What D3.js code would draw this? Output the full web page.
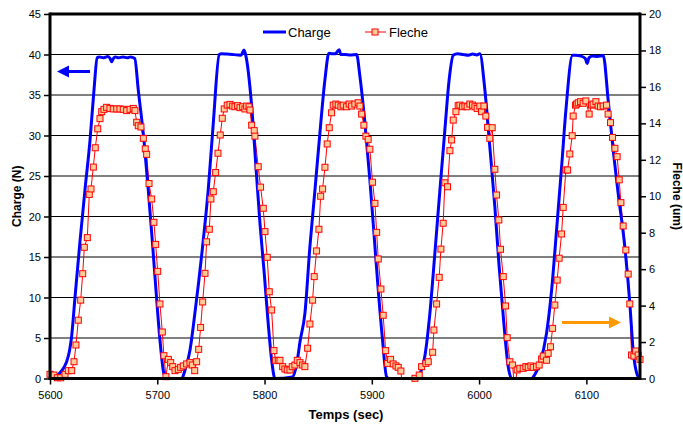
<!DOCTYPE html>
<html>
<head>
<meta charset="utf-8">
<script src="https://cdn.jsdelivr.net/npm/d3@7/dist/d3.min.js"></script>
<style>
  html, body { margin: 0; padding: 0; background: #fff; }
  svg { display: block; font-family: "Liberation Sans", Arial, sans-serif; }
</style>
</head>
<body>
<svg id="chart" width="683" height="425"></svg>
<script>
// ---------------- DATA ----------------
const chargeTime = [5600,5604,5610,5615,5618,5620,5623.3,5628,5632.6,5637.3,5641,5644,5646,5650,5654,5656,5657.5,5659,5661,5664,5668,5672,5675,5679,5682.3,5687.6,5691.6,5695.3,5698.8,5702.5,5705.6,5708,
  5722.7,5725.8,5730.5,5735.1,5742.9,5747.5,5752.2,5757.8,5760,5765,5770,5775,5778,5780.8,5782.5,5788,5792,5795.7,5799.7,5803.4,5806.6,5809.7,
  5826,5829,5831.4,5833,5837.6,5842.3,5847,5851.6,5856.3,5860,5863,5866,5869.6,5871,5875,5880,5885.8,5888.9,5893.6,5898.2,5902,5906,5910,5913.8,5916,
  5941.8,5945,5949.5,5954.1,5958.8,5963.5,5968.1,5972.1,5975.9,5980,5985,5990,5994,5998,6000.7,6005.4,6010,6014.7,6018.7,6023.1,6027.1,6030.3,
  6048.9,6052,6056.7,6062.9,6067.6,6072.2,6076.9,6080.9,6087.1,6090,6095,6099,6100.7,6102.5,6106,6110,6113,6115.7,6120.3,6125,6129.6,6135.8,6140.5,6143.6,6148.3,6150];
const chargeValues = [0,0.1,0.8,1.9,3.3,5,10,17,23.3,29.4,35.6,39.6,39.7,39.6,39.75,39.5,39.1,39.5,39.7,39.6,39.7,39.6,39.7,39.5,35.6,29.4,23.3,17.1,10.9,4.75,1,0,
  0,1,3.5,8.1,17.1,23.3,31.5,40.0,40.1,40.05,40.0,39.95,39.9,40.55,39.9,33.6,26.1,19.2,13,6.8,2.3,0,
  0.2,1.2,3,4.5,8,16.3,23.3,30.3,36.9,40.15,40.1,40.1,40.6,40.0,40.0,39.95,40.0,37.3,31.5,24.5,17.9,10.9,4.75,0.2,0,
  0,0.6,2.8,8,15.5,23.3,30.7,36.9,39.9,40.1,40.0,39.9,40.05,39.95,40.1,35.6,28.6,21.2,13.8,6.8,1.5,0,
  0,0.5,1.9,5.6,10.9,18.3,26.1,33.1,39.9,39.9,39.8,39.5,38.9,39.6,39.8,39.75,39.8,39.9,34.4,28.2,22.9,16.3,9.3,3.5,0.2,0];

const flecheTime = [5600,5603.7,5606.8,5610,5614,5617.1,5620.2,5622.4,5624.2,5626.4,5628.6,5630.5,5632,5634.8,5636.6,5638.2,5640.4,5642.2,5644.5,5646.6,5648.2,5650.3,5652.8,5655.9,5659,5662.2,5665.2,5668.3,5671.5,5674.6,5677.6,5679.2,5680.8,5682.3,5684.8,5687,5688.8,5690.1,5692.3,5694.8,5696.9,5698.5,5700.4,5702.5,5704.7,5706.2,5708.1,
  5710.3,5712.5,5714.4,5716.5,5719.6,5721.8,5724.2,5727.4,5730.5,5732.6,5734.9,5736.7,5738.6,5740.4,5742.3,5744.5,5746,5748.5,5750,5752.2,5754.4,5756.6,5758.7,5760.6,5762.4,5765.2,5767.8,5770.3,5772.4,5774.9,5777.1,5779.6,5781.7,5783.3,5785.5,5786.4,5788,5790.4,5791,5794.1,5796.3,5798.8,5800.4,5802.5,5804.4,5806.6,5808.8,
  5810.3,5812.8,5814.4,5816.9,5819,5821.2,5823.7,5825.8,5828.3,5830.5,5833,5835.5,5837.6,5840.2,5842.3,5844.8,5846.3,5848.5,5850.7,5852.3,5854.1,5856.3,5858.4,5860.3,5862.5,5864,5866.5,5868.7,5871.2,5873.3,5876.5,5878.9,5881.2,5884.2,5887.3,5888.9,5890.5,5892.6,5894.5,5896.6,5898.2,5900.7,5902.9,5904.5,5906,5908.5,5910.6,5912.9,
  5914.7,5917.5,5919.9,5922.5,5924.6,5927.1,5929.4,5940.2,5944.2,5946.4,5950.4,5952.6,5956.7,5957.9,5960.4,5962.8,5964.4,5966.5,5968.1,5970.6,5972.8,5974.4,5975.9,5978.4,5980.5,5982.1,5984.6,5986.8,5988.9,5991.4,5993.9,5996.1,5998.2,6000.7,6002.3,6004.5,6006.3,6007.9,6010,6012.2,6014.7,6016.3,6018.4,6020,6022.5,6024.7,6026.2,6028.7,6031.2,
  6033.1,6035.5,6038,6041.1,6043.6,6045.8,6048.3,6050.4,6053.6,6056,6058.3,6059.8,6062.9,6064.4,6066.6,6068.5,6070.6,6072.8,6074.6,6076.9,6078.4,6080.9,6082.5,6084.6,6086.8,6087.7,6089.9,6090.9,6092.4,6094.6,6097,6099.5,6102.6,6104.8,6106.3,6108.9,6111,6113.2,6115.7,6118.8,6120.3,6122.5,6124.4,6126.6,6128.7,6130.6,6132.2,6134.3,6136.8,6139,6140.5,6142.1,6144.3,6146.1,6148.3,6150,6153];
const flecheValues = [0.23,0.19,0.04,0.04,0.23,0.43,0.43,0.92,1.84,3.2,4.3,5.75,7.2,7.73,10.1,10.4,11.6,12.66,13.7,14.26,14.64,14.77,14.88,14.82,14.79,14.79,14.79,14.77,14.7,14.77,14.82,14.7,14.06,13.87,13.8,13.18,12.6,12.3,10.7,9.85,8.57,7.36,5.88,4.09,2.55,1.25,0.1,
  1.05,0.87,0.65,0.43,0.5,0.61,0.69,0.8,0.87,0.74,0.43,0.92,1.6,2.8,4.2,5.77,7.5,8.19,9.85,10.25,11.3,12.36,13.36,14.28,14.79,15.0,15.04,14.95,14.91,14.97,14.86,14.91,14.79,14.95,14.91,14.73,13.9,13.6,13.3,11.62,10.5,9.34,8.06,6.65,4.76,3.76,1.53,
  1.0,0.98,1.0,0.65,0.52,0.47,0.47,0.65,0.74,1.0,0.87,0.74,0.65,1.66,2.99,4.3,5.59,7.0,8.19,10.0,10.4,11.59,12.87,13.76,14.58,15.0,15.06,15.0,14.91,15.0,14.91,15.06,14.95,15.06,15.13,14.95,14.51,13.9,13.3,13.12,12.58,10.77,9.61,8.02,6.56,4.91,3.47,1.53,
  0.83,1.05,0.8,0.69,0.61,0.41,-1.0,0.01,0.19,0.65,0.83,0.92,1.44,2.66,4.09,5.55,7.1,8.52,10.74,10.52,12.5,13.09,14.18,14.64,14.97,15.0,14.91,14.95,14.91,15.06,15.0,14.91,14.82,14.95,14.64,14.95,14.4,13.78,13.18,13.76,11.48,10.07,8.7,7.09,5.59,3.98,2.24,0.92,0.74,
  -0.6,0.47,0.56,0.56,0.65,0.61,0.69,0.61,0.65,0.74,1.07,1.23,1.0,1.38,1.74,2.75,4.03,5.4,6.6,7.93,9.39,11.44,11.44,12.32,13.32,14.4,15.0,15.06,15.13,15.19,15.1,15.23,14.51,15.0,15.06,15.19,14.95,14.91,14.95,15.0,14.51,14.04,13.23,12.63,12.17,10.9,9.65,8.37,7.05,5.73,4.09,1.29,1.23,1.51,1.29,1.05,0.5];

const xTicks = [5600,5700,5800,5900,6000,6100];
const leftTicks = [0,5,10,15,20,25,30,35,40,45];
const rightTicks = [0,2,4,6,8,10,12,14,16,18,20];
const seriesNames = ["Charge","Fleche"];
const axisTitles = {left: "Charge (N)", right: "Fleche (um)", bottom: "Temps (sec)"};

// ---------------- LAYOUT ----------------
const svg = d3.select("#chart");
const L = 50, R = 640, T = 14, B = 378.5;
const x = d3.scaleLinear().domain([5600, 6150]).range([L, R]);
const yL = d3.scaleLinear().domain([0, 45]).range([B, T]);
const yR = d3.scaleLinear().domain([0, 20]).range([B, T]);

svg.append("rect").attr("width",683).attr("height",425).attr("fill","#fff");

// gridlines
svg.append("g").selectAll("line").data(leftTicks.filter(d => d > 0 && d < 45)).join("line")
  .attr("x1", L).attr("x2", R).attr("y1", d => yL(d)).attr("y2", d => yL(d))
  .attr("stroke", "#000").attr("stroke-width", 1);

// clip
svg.append("defs").append("clipPath").attr("id","clip")
  .append("rect").attr("x", L).attr("y", T).attr("width", R - L).attr("height", B - T);

const plot = svg.append("g").attr("clip-path","url(#clip)");

// Fleche series (red line with square markers)
const fData = flecheTime.map((t,i) => ({t, v: flecheValues[i]}));
plot.append("path").datum(fData)
  .attr("d", d3.line().x(d => x(d.t)).y(d => yR(d.v)))
  .attr("fill","none").attr("stroke","#FF0000").attr("stroke-width",1);

// Charge series (blue thick line)
const cData = chargeTime.map((t,i) => ({t, v: chargeValues[i]}));
plot.append("path").datum(cData)
  .attr("d", d3.line().curve(d3.curveMonotoneX).x(d => x(d.t)).y(d => yL(d.v)))
  .attr("fill","none").attr("stroke","#0000FF").attr("stroke-width",3).attr("stroke-linejoin","round");

// markers
svg.append("g").selectAll("rect").data(fData.filter(d => d.t <= 6150 && d.v >= 0)).join("rect")
  .attr("x", d => x(d.t) - 3).attr("y", d => yR(d.v) - 3)
  .attr("width", 6).attr("height", 6)
  .attr("fill","#FFCC99").attr("stroke","#FF0000").attr("stroke-width",1);

// axes
const fontSize = 11;
const gL = svg.append("g").attr("transform", `translate(${L},0)`)
  .call(d3.axisLeft(yL).tickValues(leftTicks).tickSize(6).tickPadding(3));
const gR = svg.append("g").attr("transform", `translate(${R},0)`)
  .call(d3.axisRight(yR).tickValues(rightTicks).tickSize(6).tickPadding(3));
const gB = svg.append("g").attr("transform", `translate(0,${B})`)
  .call(d3.axisBottom(x).tickValues(xTicks).tickSize(6).tickPadding(7).tickFormat(d3.format("d")));

[gL, gR, gB].forEach(g => {
  g.select(".domain").remove();
  g.selectAll(".tick line").attr("stroke","#000").attr("stroke-width",1.5);
  g.selectAll(".tick text").attr("fill","#000").style("font-size", fontSize + "px")
    .style("font-family", "'Liberation Sans', Arial, sans-serif");
});

// frame: thick axes lines
svg.append("line").attr("x1", L).attr("x2", L).attr("y1", T - 1.5).attr("y2", B + 1.5).attr("stroke","#000").attr("stroke-width",3);
svg.append("line").attr("x1", R).attr("x2", R).attr("y1", T - 1.5).attr("y2", B + 1.5).attr("stroke","#000").attr("stroke-width",3);
svg.append("line").attr("x1", L).attr("x2", R).attr("y1", T).attr("y2", T).attr("stroke","#000").attr("stroke-width",3);
svg.append("line").attr("x1", L).attr("x2", R).attr("y1", B).attr("y2", B).attr("stroke","#000").attr("stroke-width",3);

// axis titles
svg.append("text").attr("transform", `translate(21,${(T+B)/2}) rotate(-90)`)
  .attr("text-anchor","middle").style("font-size","12px").style("font-weight","bold").text(axisTitles.left);
svg.append("text").attr("transform", `translate(673,${(T+B)/2}) rotate(90)`)
  .attr("text-anchor","middle").style("font-size","12px").style("font-weight","bold").text(axisTitles.right);
svg.append("text").attr("x", 346).attr("y", 419)
  .attr("text-anchor","middle").style("font-size","13px").style("font-weight","bold").text(axisTitles.bottom);

// legend
const lg = svg.append("g");
lg.append("line").attr("x1",263).attr("x2",286).attr("y1",32).attr("y2",32).attr("stroke","#0000FF").attr("stroke-width",3);
lg.append("text").attr("x",288).attr("y",37).style("font-size","13px").text(seriesNames[0]);
lg.append("line").attr("x1",365).attr("x2",386).attr("y1",32).attr("y2",32).attr("stroke","#FF0000").attr("stroke-width",1);
lg.append("rect").attr("x",372).attr("y",29).attr("width",6).attr("height",6).attr("fill","#FFCC99").attr("stroke","#FF0000");
lg.append("text").attr("x",389).attr("y",37).style("font-size","13px").text(seriesNames[1]);

// arrows
function arrow(x0, x1, y, color) {
  const dir = Math.sign(x1 - x0);
  const headLen = 12, headHalf = 6;
  svg.append("line").attr("x1", x0).attr("x2", x1 - dir * headLen).attr("y1", y).attr("y2", y)
    .attr("stroke", color).attr("stroke-width", 3);
  svg.append("path")
    .attr("d", `M${x1},${y} L${x1 - dir*headLen},${y-headHalf} L${x1 - dir*headLen},${y+headHalf} Z`)
    .attr("fill", color);
}
arrow(90, 57, 71.5, "#0000FF");
arrow(562, 621, 322.5, "#FF9900");
</script>
</body>
</html>
